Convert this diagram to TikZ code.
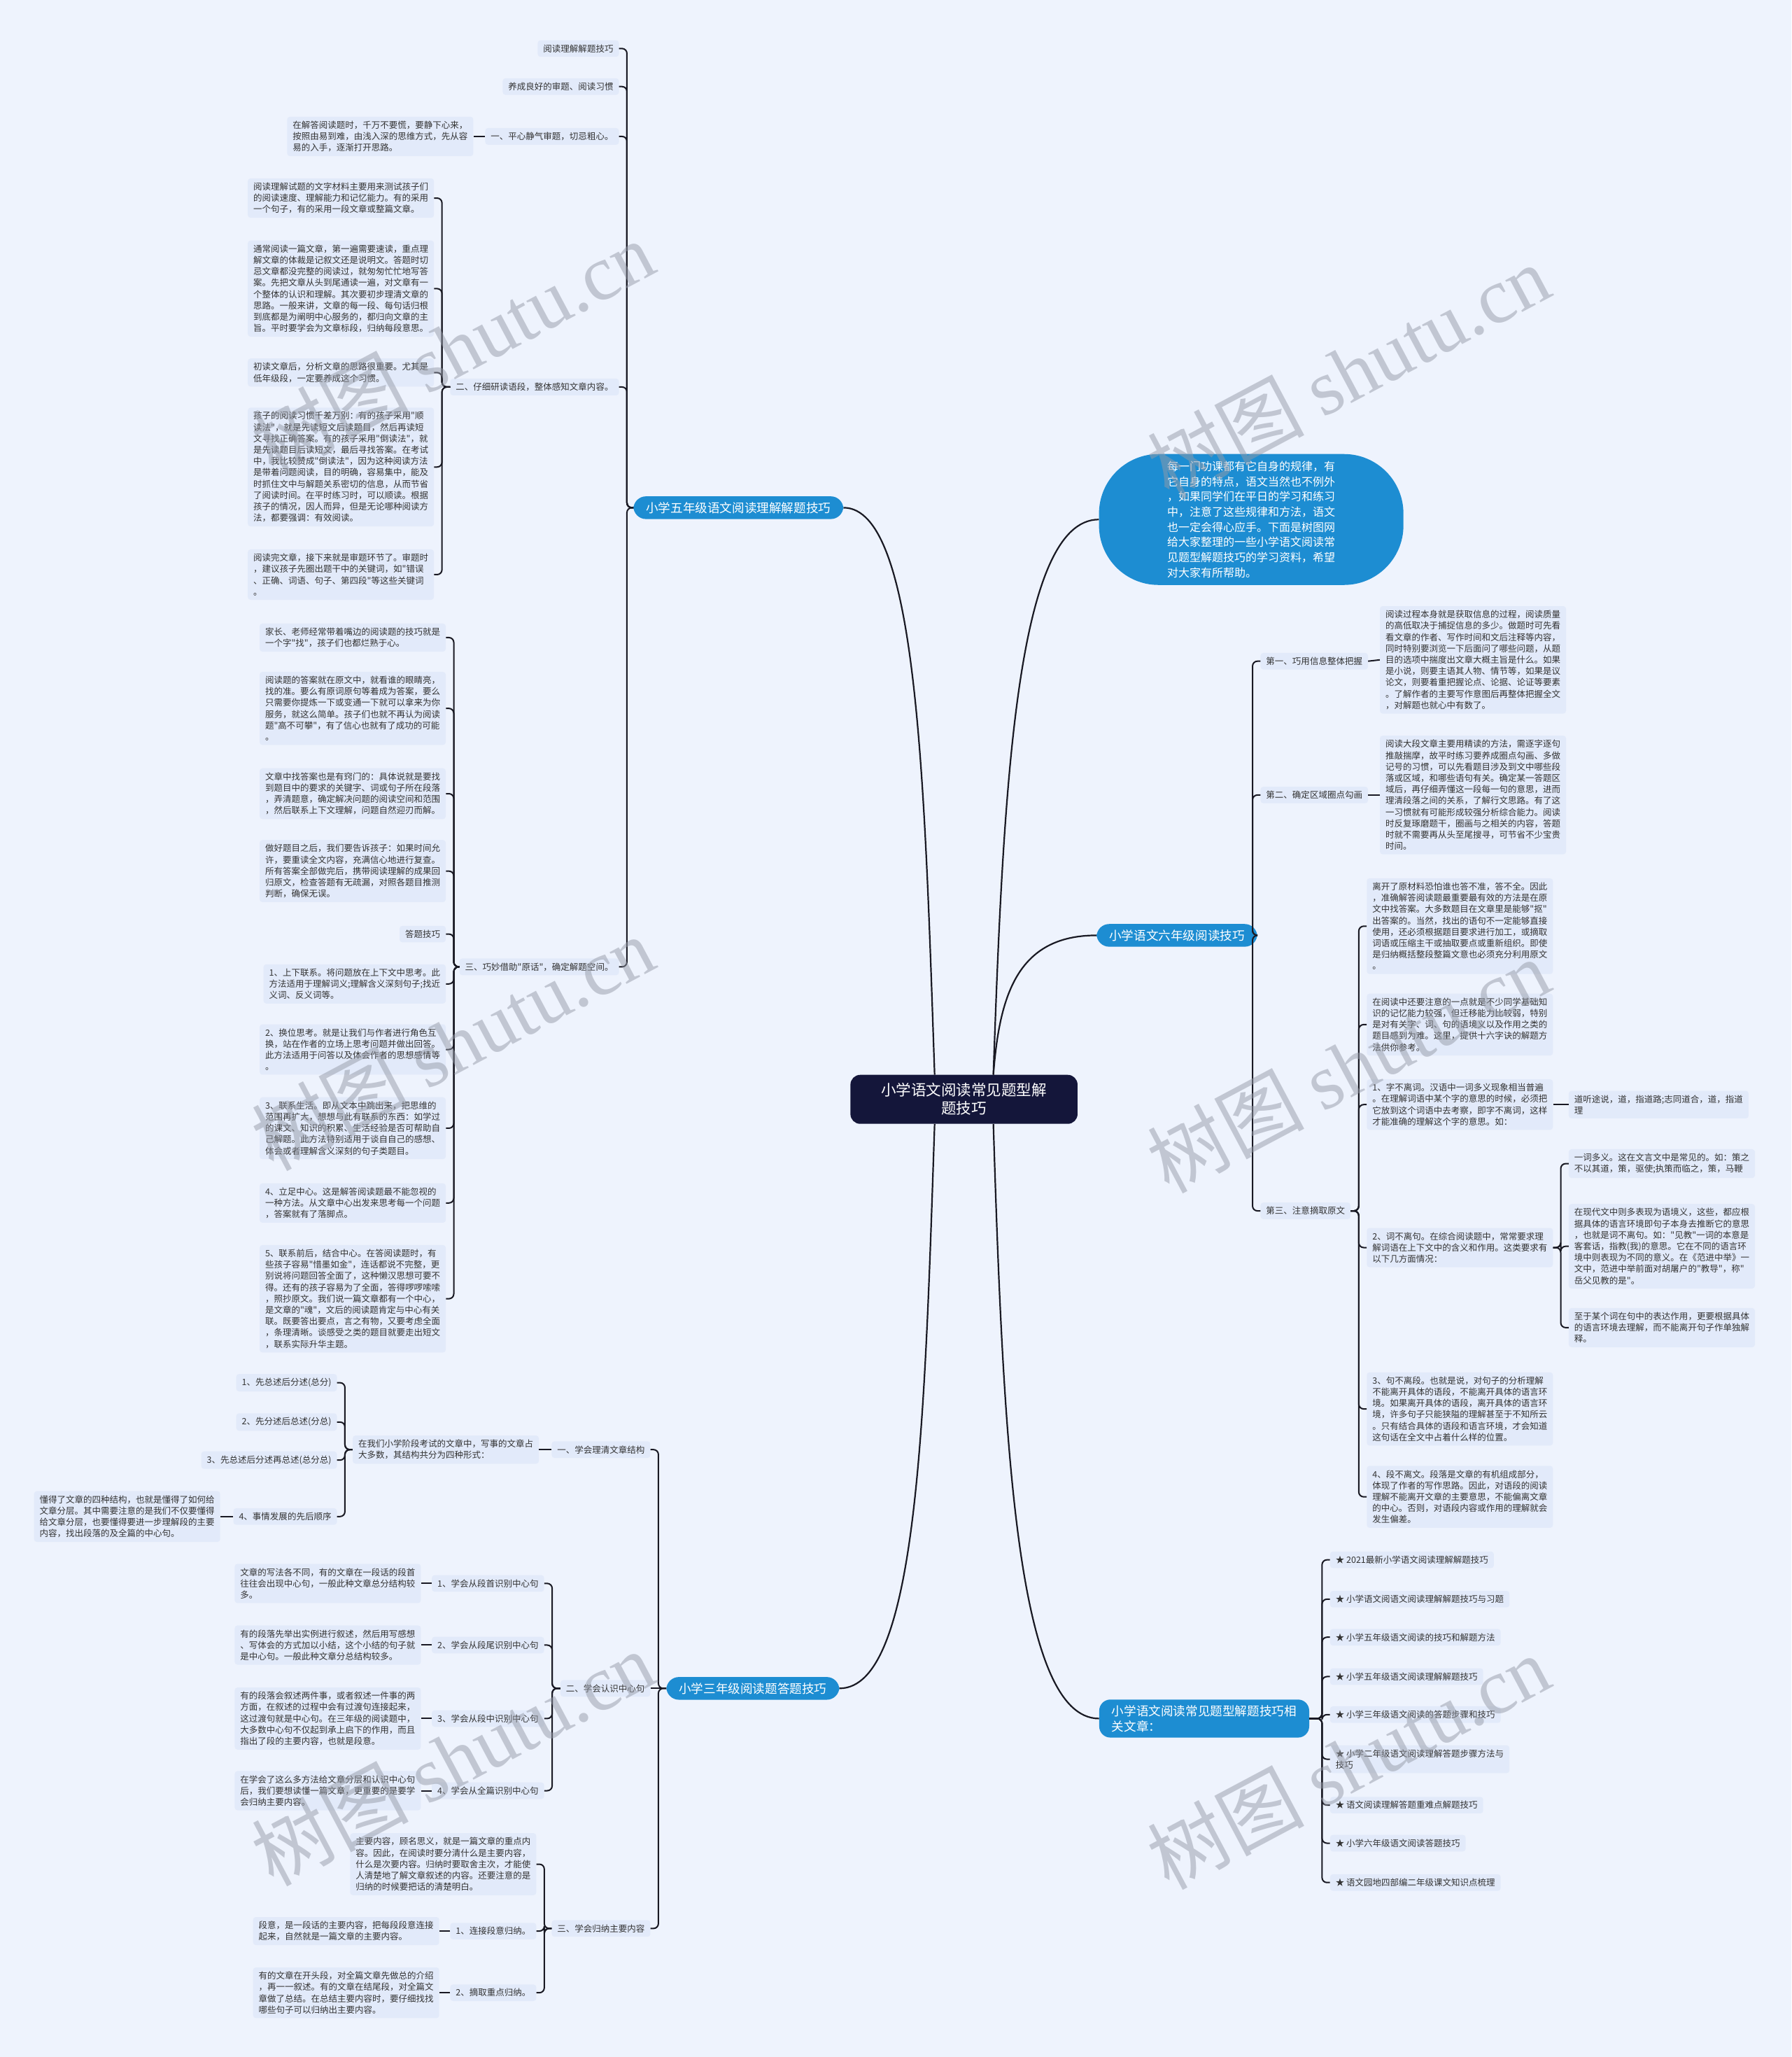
\documentclass[tikz,border=0pt]{standalone}
\usepackage{fontspec}
\newfontfamily\cjk{Noto Sans CJK SC}
\newfontfamily\wmserif{Liberation Serif}
\usepackage{xcolor}
\definecolor{bgblue}{RGB}{238,243,253}
\definecolor{nodefill}{RGB}{226,234,250}
\definecolor{textgray}{RGB}{51,51,51}
\definecolor{pillblue}{RGB}{29,141,210}
\definecolor{navy}{RGB}{20,22,58}
\definecolor{linecol}{RGB}{25,25,35}
\definecolor{wmgray}{RGB}{150,155,168}

\begin{document}
\begin{tikzpicture}[x=1.874pt, y=-1.874pt,
  leaf/.style={fill=nodefill, rounded corners=4pt, text=textgray, align=left, inner xsep=8pt, inner ysep=6pt, font=\cjk\fontsize{12.5}{16.2}\selectfont},
  branch/.style={fill=pillblue, text=white, rounded corners=18pt, inner xsep=18pt, inner ysep=8pt, align=left, font=\cjk\fontsize{17.6}{22}\selectfont},
  bubble/.style={fill=pillblue, text=white, rounded corners=85pt, minimum width=435pt, minimum height=187pt, inner sep=0pt, align=left, font=\cjk\fontsize{16}{21.7}\selectfont},
  topic/.style={fill=navy, text=white, rounded corners=14pt, inner xsep=44pt, inner ysep=12pt, align=center, font=\cjk\fontsize{21.5}{26}\selectfont},
  link/.style={draw=linecol, line width=2pt, rounded corners=7pt},
  mainlink/.style={draw=linecol, line width=2.2pt},
  wmark/.style={text=wmgray, opacity=.5, rotate=28, font=\cjk\fontsize{112}{112}\selectfont}
]
\fill[bgblue] (0,0) rectangle (1366,1568);
\useasboundingbox (0,0) rectangle (1366,1568);

\node[topic] (ctr) at (735,838) {小学语文阅读常见题型解\\题技巧};
\node[branch] (l1) at (563,387) {小学五年级语文阅读理解解题技巧};
\node[branch] (l2) at (574,1287) {小学三年级阅读题答题技巧};
\node[bubble] (r1) at (954,396) {每一门功课都有它自身的规律，有\\它自身的特点，语文当然也不例外\\，如果同学们在平日的学习和练习\\中，注意了这些规律和方法，语文\\也一定会得心应手。下面是树图网\\给大家整理的一些小学语文阅读常\\见题型解题技巧的学习资料，希望\\对大家有所帮助。};
\node[branch, anchor=west] (r2) at (836,713) {小学语文六年级阅读技巧};
\node[branch, anchor=west, rounded corners=16pt] (r3) at (838,1310) {小学语文阅读常见题型解题技巧相\\关文章：};

\draw[mainlink] (ctr.140) .. controls (705,600) and (700,387) .. (l1.east);
\draw[mainlink] (ctr.220) .. controls (705,1080) and (700,1287) .. (l2.east);
\draw[mainlink] (ctr.40) .. controls (765,600) and (775,396) .. (r1.west);
\draw[mainlink] (ctr.40) .. controls (762,760) and (775,713) .. (r2.west);
\draw[mainlink] (ctr.320) .. controls (765,1100) and (775,1310) .. (r3.west);

% left upper branch
\coordinate (s1) at (478,0);
\node[leaf, anchor=east] (a1) at (472,37) {阅读理解解题技巧};
\node[leaf, anchor=east] (a2) at (472,66) {养成良好的审题、阅读习惯};
\node[leaf, anchor=east] (a3) at (472,104) {一、平心静气审题，切忌粗心。};
\node[leaf, anchor=east] (a3p) at (361,104) {在解答阅读题时，千万不要慌，要静下心来，\\按照由易到难，由浅入深的思维方式，先从容\\易的入手，逐渐打开思路。};
\node[leaf, anchor=east] (a4) at (472,295) {二、仔细研读语段，整体感知文章内容。};
\node[leaf, anchor=east] (a5) at (472,737) {三、巧妙借助"原话"，确定解题空间。};
\draw[link] (l1.west) -| (a1.east -| s1) -- (a1.east);
\draw[link] (l1.west) -| (a2.east -| s1) -- (a2.east);
\draw[link] (l1.west) -| (a3.east -| s1) -- (a3.east);
\draw[link] (l1.west) -| (a4.east -| s1) -- (a4.east);
\draw[link] (l1.west) -| (a5.east -| s1) -- (a5.east);
\draw[link] (a3.west) -- (a3p.east);

\coordinate (s4) at (337,0);
\node[leaf, anchor=east] (b1) at (331,151) {阅读理解试题的文字材料主要用来测试孩子们\\的阅读速度、理解能力和记忆能力。有的采用\\一个句子，有的采用一段文章或整篇文章。};
\node[leaf, anchor=east] (b2) at (331,220) {通常阅读一篇文章，第一遍需要速读，重点理\\解文章的体裁是记叙文还是说明文。答题时切\\忌文章都没完整的阅读过，就匆匆忙忙地写答\\案。先把文章从头到尾通读一遍，对文章有一\\个整体的认识和理解。其次要初步理清文章的\\思路。一般来讲，文章的每一段、每句话归根\\到底都是为阐明中心服务的，都归向文章的主\\旨。平时要学会为文章标段，归纳每段意思。};
\node[leaf, anchor=east] (b3) at (331,284) {初读文章后，分析文章的思路很重要。尤其是\\低年级段，一定要养成这个习惯。};
\node[leaf, anchor=east] (b4) at (331,356) {孩子的阅读习惯千差万别：有的孩子采用"顺\\读法"，就是先读短文后读题目，然后再读短\\文寻找正确答案。有的孩子采用"倒读法"，就\\是先读题目后读短文，最后寻找答案。在考试\\中，我比较赞成"倒读法"，因为这种阅读方法\\是带着问题阅读，目的明确，容易集中，能及\\时抓住文中与解题关系密切的信息，从而节省\\了阅读时间。在平时练习时，可以顺读。根据\\孩子的情况，因人而异，但是无论哪种阅读方\\法，都要强调：有效阅读。};
\node[leaf, anchor=east] (b5) at (331,438) {阅读完文章，接下来就是审题环节了。审题时\\，建议孩子先圈出题干中的关键词，如"错误\\、正确、词语、句子、第四段"等这些关键词\\。};
\draw[link] (a4.west) -| (b1.east -| s4) -- (b1.east);
\draw[link] (a4.west) -| (b2.east -| s4) -- (b2.east);
\draw[link] (a4.west) -| (b3.east -| s4) -- (b3.east);
\draw[link] (a4.west) -| (b4.east -| s4) -- (b4.east);
\draw[link] (a4.west) -| (b5.east -| s4) -- (b5.east);

\coordinate (s5) at (346,0);
\node[leaf, anchor=east] (c1) at (340,486) {家长、老师经常带着嘴边的阅读题的技巧就是\\一个字"找"，孩子们也都烂熟于心。};
\node[leaf, anchor=east] (c2) at (340,540) {阅读题的答案就在原文中，就看谁的眼睛亮，\\找的准。要么有原词原句等着成为答案，要么\\只需要你提炼一下或变通一下就可以拿来为你\\服务，就这么简单。孩子们也就不再认为阅读\\题"高不可攀"，有了信心也就有了成功的可能\\。};
\node[leaf, anchor=east] (c3) at (340,605) {文章中找答案也是有窍门的：具体说就是要找\\到题目中的要求的关键字、词或句子所在段落\\，弄清题意，确定解决问题的阅读空间和范围\\，然后联系上下文理解，问题自然迎刃而解。};
\node[leaf, anchor=east] (c4) at (340,664) {做好题目之后，我们要告诉孩子：如果时间允\\许，要重读全文内容，充满信心地进行复查。\\所有答案全部做完后，携带阅读理解的成果回\\归原文，检查答题有无疏漏，对照各题目推测\\判断，确保无误。};
\node[leaf, anchor=east] (c5) at (340,712) {答题技巧};
\node[leaf, anchor=east] (c6) at (340,750) {1、上下联系。将问题放在上下文中思考。此\\方法适用于理解词义;理解含义深刻句子;找近\\义词、反义词等。};
\node[leaf, anchor=east] (c7) at (340,800) {2、换位思考。就是让我们与作者进行角色互\\换，站在作者的立场上思考问题并做出回答。\\此方法适用于问答以及体会作者的思想感情等\\。};
\node[leaf, anchor=east] (c8) at (340,860) {3、联系生活。即从文本中跳出来，把思维的\\范围再扩大，想想与此有联系的东西：如学过\\的课文、知识的积累、生活经验是否可帮助自\\己解题。此方法特别适用于谈自自己的感想、\\体会或者理解含义深刻的句子类题目。};
\node[leaf, anchor=east] (c9) at (340,917) {4、立足中心。这是解答阅读题最不能忽视的\\一种方法。从文章中心出发来思考每一个问题\\，答案就有了落脚点。};
\node[leaf, anchor=east] (c10) at (340,990) {5、联系前后，结合中心。在答阅读题时，有\\些孩子容易"惜墨如金"，连话都说不完整，更\\别说将问题回答全面了，这种懒汉思想可要不\\得。还有的孩子容易为了全面，答得啰啰嗦嗦\\，照抄原文。我们说一篇文章都有一个中心，\\是文章的"魂"，文后的阅读题肯定与中心有关\\联。既要答出要点，言之有物，又要考虑全面\\，条理清晰。谈感受之类的题目就要走出短文\\，联系实际升华主题。};
\draw[link] (a5.west) -| (c1.east -| s5) -- (c1.east);
\draw[link] (a5.west) -| (c2.east -| s5) -- (c2.east);
\draw[link] (a5.west) -| (c3.east -| s5) -- (c3.east);
\draw[link] (a5.west) -| (c4.east -| s5) -- (c4.east);
\draw[link] (a5.west) -| (c5.east -| s5) -- (c5.east);
\draw[link] (a5.west) -| (c6.east -| s5) -- (c6.east);
\draw[link] (a5.west) -| (c7.east -| s5) -- (c7.east);
\draw[link] (a5.west) -| (c8.east -| s5) -- (c8.east);
\draw[link] (a5.west) -| (c9.east -| s5) -- (c9.east);
\draw[link] (a5.west) -| (c10.east -| s5) -- (c10.east);

% left lower branch
\coordinate (s2) at (502,0);
\node[leaf, anchor=east] (d1) at (496,1105) {一、学会理清文章结构};
\node[leaf, anchor=east] (d2) at (496,1287) {二、学会认识中心句};
\node[leaf, anchor=east] (d3) at (496,1470) {三、学会归纳主要内容};
\draw[link] (l2.west) -| (d1.east -| s2) -- (d1.east);
\draw[link] (l2.west) -- (d2.east);
\draw[link] (l2.west) -| (d3.east -| s2) -- (d3.east);

\node[leaf, anchor=east] (d1p) at (411,1105) {在我们小学阶段考试的文章中，写事的文章占\\大多数，其结构共分为四种形式：};
\draw[link] (d1.west) -- (d1p.east);
\coordinate (se) at (263,0);
\node[leaf, anchor=east] (e1) at (257,1054) {1、先总述后分述(总分)};
\node[leaf, anchor=east] (e2) at (257,1084) {2、先分述后总述(分总)};
\node[leaf, anchor=east] (e3) at (257,1113) {3、先总述后分述再总述(总分总)};
\node[leaf, anchor=east] (e4) at (257,1156) {4、事情发展的先后顺序};
\node[leaf, anchor=east] (e4p) at (168,1156) {懂得了文章的四种结构，也就是懂得了如何给\\文章分层。其中需要注意的是我们不仅要懂得\\给文章分层，也要懂得要进一步理解段的主要\\内容，找出段落的及全篇的中心句。};
\draw[link] (d1p.west) -| (e1.east -| se) -- (e1.east);
\draw[link] (d1p.west) -| (e2.east -| se) -- (e2.east);
\draw[link] (d1p.west) -| (e3.east -| se) -- (e3.east);
\draw[link] (d1p.west) -| (e4.east -| se) -- (e4.east);
\draw[link] (e4.west) -- (e4p.east);

\coordinate (sf) at (421,0);
\node[leaf, anchor=east] (f1) at (415,1207) {1、学会从段首识别中心句};
\node[leaf, anchor=east] (f2) at (415,1254) {2、学会从段尾识别中心句};
\node[leaf, anchor=east] (f3) at (415,1310) {3、学会从段中识别中心句};
\node[leaf, anchor=east] (f4) at (415,1365) {4、学会从全篇识别中心句};
\node[leaf, anchor=east] (f1p) at (321,1207) {文章的写法各不同，有的文章在一段话的段首\\往往会出现中心句，一般此种文章总分结构较\\多。};
\node[leaf, anchor=east] (f2p) at (321,1254) {有的段落先举出实例进行叙述，然后用写感想\\、写体会的方式加以小结，这个小结的句子就\\是中心句。一般此种文章分总结构较多。};
\node[leaf, anchor=east] (f3p) at (321,1310) {有的段落会叙述两件事，或者叙述一件事的两\\方面，在叙述的过程中会有过渡句连接起来，\\这过渡句就是中心句。在三年级的阅读题中，\\大多数中心句不仅起到承上启下的作用，而且\\指出了段的主要内容，也就是段意。};
\node[leaf, anchor=east] (f4p) at (321,1365) {在学会了这么多方法给文章分层和认识中心句\\后，我们要想读懂一篇文章，更重要的是要学\\会归纳主要内容。};
\draw[link] (d2.west) -| (f1.east -| sf) -- (f1.east);
\draw[link] (d2.west) -| (f2.east -| sf) -- (f2.east);
\draw[link] (d2.west) -| (f3.east -| sf) -- (f3.east);
\draw[link] (d2.west) -| (f4.east -| sf) -- (f4.east);
\draw[link] (f1.west) -- (f1p.east);
\draw[link] (f2.west) -- (f2p.east);
\draw[link] (f3.west) -- (f3p.east);
\draw[link] (f4.west) -- (f4p.east);

\coordinate (sg) at (415,0);
\node[leaf, anchor=east] (g1) at (409,1421) {主要内容，顾名思义，就是一篇文章的重点内\\容。因此，在阅读时要分清什么是主要内容，\\什么是次要内容。归纳时要取舍主次，才能使\\人清楚地了解文章叙述的内容。还要注意的是\\归纳的时候要把话的清楚明白。};
\node[leaf, anchor=east] (g2) at (409,1472) {1、连接段意归纳。};
\node[leaf, anchor=east] (g3) at (409,1519) {2、摘取重点归纳。};
\node[leaf, anchor=east] (g2p) at (335,1472) {段意，是一段话的主要内容，把每段段意连接\\起来，自然就是一篇文章的主要内容。};
\node[leaf, anchor=east] (g3p) at (335,1519) {有的文章在开头段，对全篇文章先做总的介绍\\，再一一叙述。有的文章在结尾段，对全篇文\\章做了总结。在总结主要内容时，要仔细找找\\哪些句子可以归纳出主要内容。};
\draw[link] (d3.west) -| (g1.east -| sg) -- (g1.east);
\draw[link] (d3.west) -| (g2.east -| sg) -- (g2.east);
\draw[link] (d3.west) -| (g3.east -| sg) -- (g3.east);
\draw[link] (g2.west) -- (g2p.east);
\draw[link] (g3.west) -- (g3p.east);

% right middle branch
\coordinate (s6) at (955,0);
\node[leaf, anchor=west] (h1) at (961,504) {第一、巧用信息整体把握};
\node[leaf, anchor=west] (h2) at (961,606) {第二、确定区域圈点勾画};
\node[leaf, anchor=west] (h3) at (961,923) {第三、注意摘取原文};
\draw[link] (r2.east) -| (h1.west -| s6) -- (h1.west);
\draw[link] (r2.east) -| (h2.west -| s6) -- (h2.west);
\draw[link] (r2.east) -| (h3.west -| s6) -- (h3.west);
\node[leaf, anchor=west] (h1p) at (1052,503) {阅读过程本身就是获取信息的过程，阅读质量\\的高低取决于捕捉信息的多少。做题时可先看\\看文章的作者、写作时间和文后注释等内容，\\同时特别要浏览一下后面问了哪些问题，从题\\目的选项中揣度出文章大概主旨是什么。如果\\是小说，则要主语其人物、情节等，如果是议\\论文，则要着重把握论点、论据、论证等要素\\。了解作者的主要写作意图后再整体把握全文\\，对解题也就心中有数了。};
\node[leaf, anchor=west] (h2p) at (1052,606) {阅读大段文章主要用精读的方法，需逐字逐句\\推敲揣摩，故平时练习要养成圈点勾画、多做\\记号的习惯，可以先看题目涉及到文中哪些段\\落或区域，和哪些语句有关。确定某一答题区\\域后，再仔细弄懂这一段每一句的意思，进而\\理清段落之间的关系，了解行文思路。有了这\\一习惯就有可能形成较强分析综合能力。阅读\\时反复琢磨题干，圈画与之相关的内容，答题\\时就不需要再从头至尾搜寻，可节省不少宝贵\\时间。};
\draw[link] (h1.east) -- (h1p.west);
\draw[link] (h2.east) -- (h2p.west);

\coordinate (si) at (1036,0);
\node[leaf, anchor=west] (i1) at (1042,706) {离开了原材料恐怕谁也答不准，答不全。因此\\，准确解答阅读题最重要最有效的方法是在原\\文中找答案。大多数题目在文章里是能够"抠"\\出答案的。当然，找出的语句不一定能够直接\\使用，还必须根据题目要求进行加工，或摘取\\词语或压缩主干或抽取要点或重新组织。即使\\是归纳概括整段整篇文意也必须充分利用原文\\。};
\node[leaf, anchor=west] (i2) at (1042,781) {在阅读中还要注意的一点就是不少同学基础知\\识的记忆能力较强，但迁移能力比较弱，特别\\是对有关字、词、句的语境义以及作用之类的\\题目感到为难。这里，提供十六字诀的解题方\\法供你参考。};
\node[leaf, anchor=west] (i3) at (1042,842) {1、字不离词。汉语中一词多义现象相当普遍\\。在理解词语中某个字的意思的时候，必须把\\它放到这个词语中去考察，即字不离词，这样\\才能准确的理解这个字的意思。如：};
\node[leaf, anchor=west] (i4) at (1042,951) {2、词不离句。在综合阅读题中，常常要求理\\解词语在上下文中的含义和作用。这类要求有\\以下几方面情况：};
\node[leaf, anchor=west] (i5) at (1042,1074) {3、句不离段。也就是说，对句子的分析理解\\不能离开具体的语段，不能离开具体的语言环\\境。如果离开具体的语段，离开具体的语言环\\境，许多句子只能狭隘的理解甚至于不知所云\\。只有结合具体的语段和语言环境，才会知道\\这句话在全文中占着什么样的位置。};
\node[leaf, anchor=west] (i6) at (1042,1141) {4、段不离文。段落是文章的有机组成部分，\\体现了作者的写作思路。因此，对语段的阅读\\理解不能离开文章的主要意思，不能偏离文章\\的中心。否则，对语段内容或作用的理解就会\\发生偏差。};
\draw[link] (h3.east) -| (i1.west -| si) -- (i1.west);
\draw[link] (h3.east) -| (i2.west -| si) -- (i2.west);
\draw[link] (h3.east) -| (i3.west -| si) -- (i3.west);
\draw[link] (h3.east) -| (i4.west -| si) -- (i4.west);
\draw[link] (h3.east) -| (i5.west -| si) -- (i5.west);
\draw[link] (h3.east) -| (i6.west -| si) -- (i6.west);

\node[leaf, anchor=west] (i3p) at (1196,842) {道听途说，道，指道路;志同道合，道，指道\\理};
\draw[link] (i3.east) -- (i3p.west);
\coordinate (sj) at (1190,0);
\node[leaf, anchor=west] (j1) at (1196,887) {一词多义。这在文言文中是常见的。如：策之\\不以其道，策，驱使;执策而临之，策，马鞭};
\node[leaf, anchor=west] (j2) at (1196,950) {在现代文中则多表现为语境义，这些，都应根\\据具体的语言环境即句子本身去推断它的意思\\，也就是词不离句。如："见教"一词的本意是\\客套话，指教(我)的意思。它在不同的语言环\\境中则表现为不同的意义。在《范进中举》一\\文中，范进中举前面对胡屠户的"教导"，称"\\岳父见教的是"。};
\node[leaf, anchor=west] (j3) at (1196,1012) {至于某个词在句中的表达作用，更要根据具体\\的语言环境去理解，而不能离开句子作单独解\\释。};
\draw[link] (i4.east) -| (j1.west -| sj) -- (j1.west);
\draw[link] (i4.east) -| (j2.west -| sj) -- (j2.west);
\draw[link] (i4.east) -| (j3.west -| sj) -- (j3.west);

% right lower branch
\coordinate (s7) at (1008,0);
\node[leaf, anchor=west] (k1) at (1014,1189) {★ 2021最新小学语文阅读理解解题技巧};
\node[leaf, anchor=west] (k2) at (1014,1219) {★ 小学语文阅语文阅读理解解题技巧与习题};
\node[leaf, anchor=west] (k3) at (1014,1248) {★ 小学五年级语文阅读的技巧和解题方法};
\node[leaf, anchor=west] (k4) at (1014,1278) {★ 小学五年级语文阅读理解解题技巧};
\node[leaf, anchor=west] (k5) at (1014,1307) {★ 小学三年级语文阅读的答题步骤和技巧};
\node[leaf, anchor=west] (k6) at (1014,1341) {★ 小学二年级语文阅读理解答题步骤方法与\\技巧};
\node[leaf, anchor=west] (k7) at (1014,1376) {★ 语文阅读理解答题重难点解题技巧};
\node[leaf, anchor=west] (k8) at (1014,1405) {★ 小学六年级语文阅读答题技巧};
\node[leaf, anchor=west] (k9) at (1014,1435) {★ 语文园地四部编二年级课文知识点梳理};
\draw[link] (r3.east) -| (k1.west -| s7) -- (k1.west);
\draw[link] (r3.east) -| (k2.west -| s7) -- (k2.west);
\draw[link] (r3.east) -| (k3.west -| s7) -- (k3.west);
\draw[link] (r3.east) -| (k4.west -| s7) -- (k4.west);
\draw[link] (r3.east) -| (k5.west -| s7) -- (k5.west);
\draw[link] (r3.east) -| (k6.west -| s7) -- (k6.west);
\draw[link] (r3.east) -| (k7.west -| s7) -- (k7.west);
\draw[link] (r3.east) -| (k8.west -| s7) -- (k8.west);
\draw[link] (r3.east) -| (k9.west -| s7) -- (k9.west);

% watermark
\node[wmark] (w1) at (345,265) {树图 {\wmserif shutu.cn}};
\node[wmark] (w2) at (1028,283) {树图 {\wmserif shutu.cn}};
\node[wmark] (w3) at (345,795) {树图 {\wmserif shutu.cn}};
\node[wmark] (w4) at (1028,812) {树图 {\wmserif shutu.cn}};
\node[wmark] (w5) at (345,1340) {树图 {\wmserif shutu.cn}};
\node[wmark] (w6) at (1028,1343) {树图 {\wmserif shutu.cn}};
\end{tikzpicture}
\end{document}
